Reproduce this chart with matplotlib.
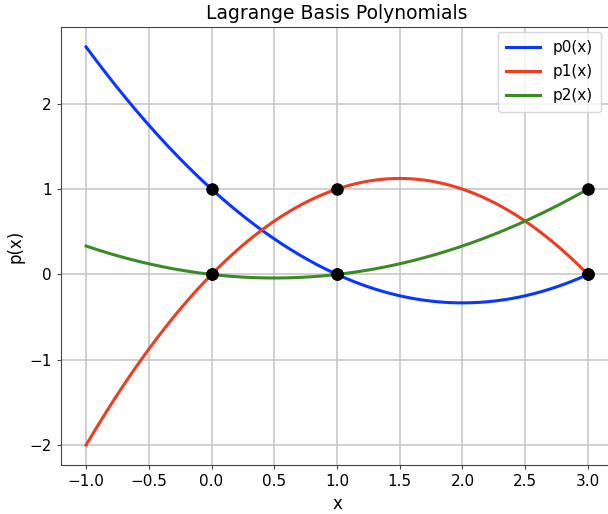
import matplotlib
matplotlib.use("Agg")
import matplotlib.pyplot as plt
import numpy as np

# interpolation nodes for the Lagrange basis
nodes = [0.0, 1.0, 3.0]
labels = ["p0(x)", "p1(x)", "p2(x)"]
colors = ["#0a36ff", "#ee3d22", "#3a8a26"]
x_range = (-1.0, 3.0)


def lagrange_basis(j, x):
    out = np.ones_like(x)
    for m, xm in enumerate(nodes):
        if m != j:
            out *= (x - xm) / (nodes[j] - xm)
    return out


px = 1 / 100
fig = plt.figure(figsize=(608 * px, 514 * px), dpi=100)
ax = fig.add_axes([61 / 608, 49 / 514, 552 / 608, 438 / 514])

x = np.linspace(x_range[0], x_range[1], 400)
for j, (label, color) in enumerate(zip(labels, colors)):
    ax.plot(x, lagrange_basis(j, x), color=color, lw=2.2, label=label, zorder=3)

# each basis polynomial is 1 at its own node and 0 at the others
for j in range(len(nodes)):
    xn = np.array(nodes)
    ax.plot(xn, lagrange_basis(j, xn), "o", color="black", ms=8, zorder=4)

ax.set_xlim(-1.2, 3.2)
ax.set_ylim(-2.2333, 2.9)
ax.set_xticks(np.arange(-1.0, 3.01, 0.5))
ax.set_yticks([-2, -1, 0, 1, 2])

ax.grid(True, color="#c8c8c8", lw=1.2)
ax.set_axisbelow(True)
for s in ax.spines.values():
    s.set_color("#444444")
ax.spines["right"].set_visible(False)
ax.tick_params(labelsize=11, length=3, color="#444444")

ax.set_title("Lagrange Basis Polynomials", fontsize=13.5)
ax.set_xlabel("x", fontsize=12)
ax.set_ylabel("p(x)", fontsize=12)
ax.legend(loc="upper right", fontsize=11, bbox_to_anchor=(1 - 4 / 552, 1.007),
          handlelength=2.2, labelspacing=0.6, borderpad=0.55,
          handletextpad=0.85)

fig.savefig("out.png", dpi=100)
